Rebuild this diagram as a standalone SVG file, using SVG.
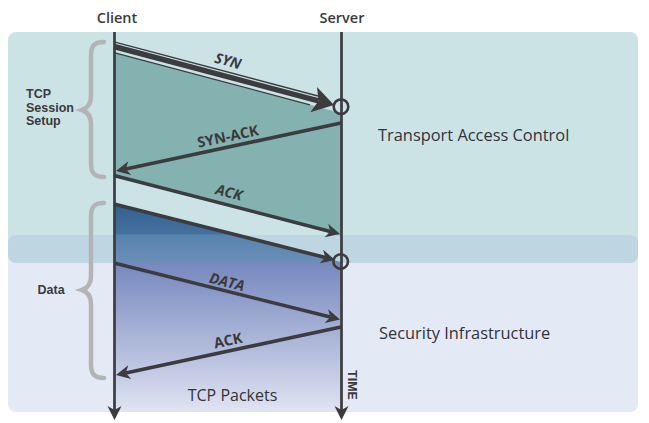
<svg xmlns="http://www.w3.org/2000/svg" width="649" height="423" viewBox="0 0 649 423">
<style>
.ln{stroke:#3c3c3f;fill:none}
.ar{stroke:#3c3c3f;stroke-width:3.6;fill:none;marker-end:url(#ah)}
.hd{font-family:"Open Sans","Liberation Sans",sans-serif;font-weight:600;fill:#3a3a3d}
.sm{font-family:"Liberation Sans","Open Sans",sans-serif;font-weight:700;font-size:12.5px;fill:#3a3a3d}
.lb{font-family:"Open Sans","Liberation Sans",sans-serif;font-weight:700;font-size:14.5px;fill:#3a3a3d;text-anchor:middle}
.big{font-family:"Open Sans","Liberation Sans",sans-serif;font-weight:400;fill:#33333a}
.br{stroke:#b4b4b6;stroke-width:4.5;fill:none;stroke-linecap:round}
</style>
<defs>
<marker id="ah" markerUnits="userSpaceOnUse" viewBox="0 -8 16 16" markerWidth="16" markerHeight="16" refX="4" refY="0" orient="auto" overflow="visible">
<path d="M0,-7 L14,0 L0,7 L4,0 Z" fill="#3c3c3f"/>
</marker>
<marker id="bigah" markerUnits="userSpaceOnUse" viewBox="0 -14 24 28" markerWidth="24" markerHeight="28" refX="5" refY="0" orient="auto" overflow="visible">
<path d="M0,-13 L21,0 L0,13 L5,0 Z" fill="#3c3c3f"/>
</marker>
<linearGradient id="blue" gradientUnits="userSpaceOnUse" x1="0" y1="204" x2="0" y2="412">
<stop offset="0" stop-color="#33608f"/>
<stop offset="0.144" stop-color="#45719f"/>
<stop offset="0.149" stop-color="#5783ae"/>
<stop offset="0.279" stop-color="#6a8eb8"/>
<stop offset="0.284" stop-color="#7788bf"/>
<stop offset="0.46" stop-color="#909ecb"/>
<stop offset="0.70" stop-color="#b2bcdc"/>
<stop offset="1" stop-color="#e0e4f2"/>
</linearGradient>
</defs>

<g id="panels">
<rect x="8" y="235" width="630" height="177" rx="8" fill="#e3eaf5"/>
<rect x="8" y="32" width="630" height="231" rx="8" fill="#cbe3e5"/>
<rect x="8" y="235" width="630" height="28" rx="8" fill="#bed6e1"/>
</g>

<g id="shading">
<polygon points="114,52.7 341,113 341,236 114,176" fill="#83b2b0"/>
<polygon points="114,204 341,262 341,412 114,412" fill="url(#blue)"/>
</g>

<g id="braces">
<path class="br" d="M104,42 C94,42 91,46 91,56 L91,96 C91,104 88,108 82,110 C88,112 91,116 91,124 L91,163 C91,173 94,177 104,177"/>
<path class="br" d="M104,203 C94,203 91,207 91,217 L91,276 C91,284 88,288 82,290 C88,292 91,296 91,304 L91,364 C91,374 94,378 104,378"/>
</g>

<g id="client">
<line class="ln" x1="114.5" y1="32" x2="114.5" y2="410" stroke-width="2.7" marker-end="url(#ah)"/>
<text class="hd" x="117" y="23" font-size="14.5" text-anchor="middle">Client</text>
</g>
<g id="server">
<line class="ln" x1="341.5" y1="32" x2="341.5" y2="410" stroke-width="2.7" marker-end="url(#ah)"/>
<text class="hd" x="342" y="23" font-size="14.5" text-anchor="middle">Server</text>
<circle cx="341" cy="106.7" r="7.3" fill="none" stroke="#3c3c3f" stroke-width="2.6"/>
<circle cx="340.7" cy="261.5" r="7.3" fill="none" stroke="#3c3c3f" stroke-width="2.6"/>
<text class="sm" font-size="11.5" text-anchor="middle" transform="translate(352,385) rotate(90)" x="0" y="4">TIME</text>
</g>

<g id="connectors">
<line class="ln" x1="114" y1="41.8" x2="318" y2="96" stroke-width="1.3"/>
<line class="ln" x1="114" y1="52.7" x2="310" y2="104.8" stroke-width="1.3"/>
<line class="ln" x1="114" y1="46.5" x2="318.5" y2="100.9" stroke-width="5.5" marker-end="url(#bigah)"/>
<line class="ar" x1="341" y1="123" x2="125.8" y2="168.9"/>
<line class="ar" x1="114" y1="175.5" x2="330.3" y2="231.5"/>
<line class="ar" x1="114" y1="204" x2="325.3" y2="257.5"/>
<line class="ar" x1="114" y1="263" x2="330.3" y2="317.1"/>
<line class="ar" x1="341" y1="327" x2="125.8" y2="372.9"/>
<text class="lb" font-style="italic" transform="translate(228,61) rotate(14.9)" x="0" y="5">SYN</text>
<text class="lb" transform="translate(228,136.5) rotate(-12)" x="0" y="5">SYN-ACK</text>
<text class="lb" font-style="italic" transform="translate(229,192.5) rotate(14.5)" x="0" y="5">ACK</text>
<text class="lb" font-style="italic" transform="translate(227,282) rotate(14)" x="0" y="5">DATA</text>
<text class="lb" transform="translate(228,340.5) rotate(-12)" x="0" y="5">ACK</text>
</g>

<g id="labels">
<text class="sm"><tspan x="26" y="98">TCP</tspan><tspan x="26" y="111.5">Session</tspan><tspan x="26" y="125">Setup</tspan></text>
<text class="sm" font-size="13" x="37.5" y="294">Data</text>
<text class="big" font-size="16.4" x="378" y="141">Transport Access Control</text>
<text class="big" font-size="16.4" x="379" y="339">Security Infrastructure</text>
<text class="big" font-size="16" x="232.5" y="400.5" text-anchor="middle">TCP Packets</text>
</g>
</svg>
